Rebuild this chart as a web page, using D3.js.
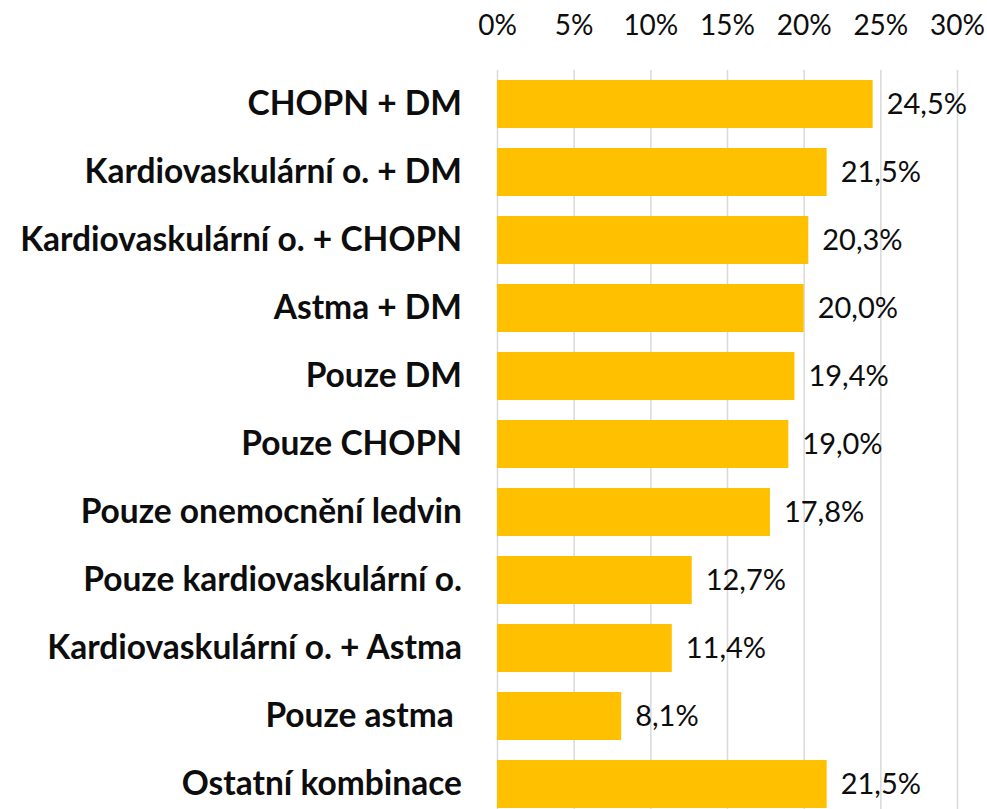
<!DOCTYPE html>
<html>
<head>
<meta charset="utf-8">
<script src="https://cdn.jsdelivr.net/npm/d3@7"></script>
<style>
  body { margin: 0; background: #fff; }
  svg text { font-family: Lato, "Open Sans", sans-serif; fill: #0d0d0d; }
</style>
</head>
<body>
<div id="chart"></div>
<script>
const categories = [
  'CHOPN + DM',
  'Kardiovaskulární o. + DM',
  'Kardiovaskulární o. + CHOPN',
  'Astma + DM',
  'Pouze DM',
  'Pouze CHOPN',
  'Pouze onemocnění ledvin',
  'Pouze kardiovaskulární o.',
  'Kardiovaskulární o. + Astma',
  'Pouze astma ',
  'Ostatní kombinace'
];
const values = [24.5, 21.5, 20.3, 20.0, 19.4, 19.0, 17.8, 12.7, 11.4, 8.1, 21.5];
const ticks = [0, 5, 10, 15, 20, 25, 30];

const width = 987, height = 809;
const plotLeft = 497, plotRight = 957, plotTop = 70;

const locale = d3.formatLocale({decimal: ',', thousands: ' ', grouping: [3], currency: ['', '']});
const fmtValue = v => locale.format('.1f')(v) + '%';

const svg = d3.select('#chart')
  .append('svg')
    .attr('width', width)
    .attr('height', height);

const x = d3.scaleLinear().domain([0, 30]).range([plotLeft, plotRight]);
const y = d3.scaleBand()
  .domain(categories)
  .range([plotTop, plotTop + 68 * categories.length])
  .paddingInner(20 / 68)
  .paddingOuter(10 / 68);

// gridlines
const grid = svg.append('g')
  .attr('transform', `translate(0, ${plotTop})`)
  .call(d3.axisBottom(x).tickValues(ticks).tickSize(height - plotTop).tickFormat(''));
grid.select('.domain').remove();
grid.selectAll('line').attr('stroke', '#d9d9d9').attr('stroke-width', 1.5);

// top tick labels
const axis = svg.append('g')
  .attr('transform', 'translate(0, 35)')
  .call(d3.axisTop(x).tickValues(ticks).tickSize(0).tickPadding(0).tickFormat(d => d + '%'));
axis.select('.domain').remove();
axis.selectAll('text')
  .attr('fill', '#0d0d0d')
  .style('font-size', '28px')
  .style('font-family', 'Lato, sans-serif');

// bars
svg.append('g')
  .selectAll('rect')
  .data(values)
  .join('rect')
    .attr('x', x(0))
    .attr('y', (d, i) => y(categories[i]))
    .attr('width', d => x(d) - x(0))
    .attr('height', y.bandwidth())
    .attr('fill', '#ffc000');

// value labels
svg.append('g')
  .selectAll('text')
  .data(values)
  .join('text')
    .attr('x', d => x(d) + 14)
    .attr('y', (d, i) => y(categories[i]) + y.bandwidth() / 2)
    .attr('dy', '0.35em')
    .style('font-size', '29px')
    .text(fmtValue);

// category labels
const yAxis = svg.append('g')
  .attr('transform', `translate(${plotLeft}, 0)`)
  .call(d3.axisLeft(y).tickSize(0).tickPadding(35));
yAxis.select('.domain').remove();
yAxis.selectAll('text')
  .attr('fill', '#0d0d0d')
  .style('font-size', '33.5px')
  .style('font-weight', 'bold')
  .style('font-family', 'Lato, sans-serif')
  .style('white-space', 'pre');
</script>
</body>
</html>
